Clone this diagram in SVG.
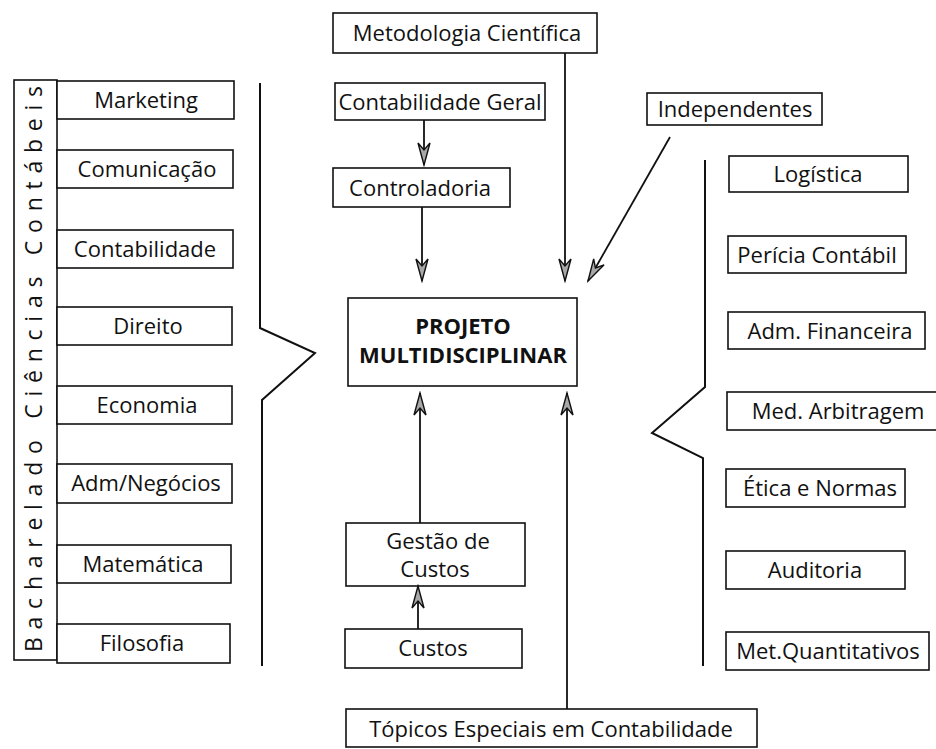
<svg xmlns="http://www.w3.org/2000/svg" width="936" height="749" viewBox="0 0 936 749">
<style>
.box{fill:#fff;stroke:#111;stroke-width:1.6}
.t{font-family:"Open Sans","Noto Sans","DejaVu Sans",sans-serif;font-size:22px;fill:#111;text-anchor:middle}
.b{font-weight:bold;font-size:22px}
.v{font-size:23px;text-anchor:start}
.ln{fill:none;stroke:#111;stroke-width:1.8}
.br{fill:none;stroke:#111;stroke-width:2}
</style>
<defs>
<marker id="ah" viewBox="-24 -8 26 16" markerWidth="26" markerHeight="16" refX="0" refY="0" orient="auto" markerUnits="userSpaceOnUse">
<path d="M0,0 L-22,-6 L-15,0 L-22,6 Z" fill="#a8a8a8" stroke="#111" stroke-width="1.4" stroke-linejoin="miter"/>
</marker>
</defs>
<rect width="936" height="749" fill="#fff"/>

<g id="label-bacharelado">
<rect class="box" x="14" y="80" width="43" height="580"/>
<text class="t v" transform="translate(42,652) rotate(-90)" textLength="566" lengthAdjust="spacing">Bacharelado Ciências Contábeis</text>
</g>

<g id="marketing"><rect class="box" x="57" y="81" width="177" height="38"/><text class="t" x="146" y="108">Marketing</text></g>
<g id="comunicacao"><rect class="box" x="57" y="150" width="176" height="38"/><text class="t" x="147" y="177">Comunicação</text></g>
<g id="contabilidade"><rect class="box" x="57" y="230" width="176" height="38"/><text class="t" x="145" y="257">Contabilidade</text></g>
<g id="direito"><rect class="box" x="57" y="307" width="175" height="38"/><text class="t" x="148" y="334">Direito</text></g>
<g id="economia"><rect class="box" x="57" y="386" width="175" height="38"/><text class="t" x="147" y="413">Economia</text></g>
<g id="adm-negocios"><rect class="box" x="57" y="464" width="175" height="39"/><text class="t" x="146" y="491">Adm/Negócios</text></g>
<g id="matematica"><rect class="box" x="57" y="545" width="174" height="38"/><text class="t" x="143" y="572">Matemática</text></g>
<g id="filosofia"><rect class="box" x="57" y="624" width="173" height="39"/><text class="t" x="142" y="651">Filosofia</text></g>

<g id="metodologia"><rect class="box" x="333" y="13" width="264" height="40"/><text class="t" x="467" y="41">Metodologia Científica</text></g>
<g id="contabilidade-geral"><rect class="box" x="335" y="83" width="210" height="37"/><text class="t" x="440" y="110">Contabilidade Geral</text></g>
<g id="controladoria"><rect class="box" x="333" y="168" width="177" height="39"/><text class="t" x="420" y="196">Controladoria</text></g>
<g id="independentes"><rect class="box" x="647" y="93" width="175" height="32"/><text class="t" x="735" y="117">Independentes</text></g>

<g id="projeto"><rect class="box" x="348" y="298" width="229" height="88"/>
<text class="t b" x="463" y="334">PROJETO</text>
<text class="t b" x="463" y="363">MULTIDISCIPLINAR</text></g>

<g id="gestao-custos"><rect class="box" x="346" y="523" width="179" height="63"/>
<text class="t" x="438" y="549">Gestão de</text>
<text class="t" x="435" y="577">Custos</text></g>
<g id="custos"><rect class="box" x="345" y="629" width="177" height="39"/><text class="t" x="433" y="656">Custos</text></g>
<g id="topicos"><rect class="box" x="346" y="709" width="411" height="38"/><text class="t" x="551" y="737">Tópicos Especiais em Contabilidade</text></g>

<g id="logistica"><rect class="box" x="729" y="156" width="179" height="36"/><text class="t" x="818" y="182">Logística</text></g>
<g id="pericia"><rect class="box" x="728" y="236" width="178" height="37"/><text class="t" x="817" y="263">Perícia Contábil</text></g>
<g id="adm-financeira"><rect class="box" x="728" y="312" width="197" height="37"/><text class="t" x="830" y="339">Adm. Financeira</text></g>
<g id="med-arbitragem"><rect class="box" x="727" y="392" width="220" height="38"/><text class="t" x="838" y="419">Med. Arbitragem</text></g>
<g id="etica"><rect class="box" x="726" y="469" width="179" height="38"/><text class="t" x="820" y="496">Ética e Normas</text></g>
<g id="auditoria"><rect class="box" x="726" y="551" width="179" height="38"/><text class="t" x="815" y="578">Auditoria</text></g>
<g id="met-quant"><rect class="box" x="726" y="632" width="203" height="38"/><text class="t" x="828" y="659">Met.Quantitativos</text></g>

<g id="connectors">
<path class="br" d="M260,83 V328 L315,353 L262,400 V666"/>
<path class="br" d="M705,160 V387 L652,433 L703,458 V666"/>
<line class="ln" x1="424" y1="120" x2="424" y2="165" marker-end="url(#ah)"/>
<line class="ln" x1="422" y1="207" x2="422" y2="281" marker-end="url(#ah)"/>
<line class="ln" x1="565" y1="53" x2="565" y2="281" marker-end="url(#ah)"/>
<line class="ln" x1="670" y1="137" x2="588" y2="281" marker-end="url(#ah)"/>
<line class="ln" x1="420" y1="523" x2="420" y2="393" marker-end="url(#ah)"/>
<line class="ln" x1="567" y1="709" x2="567" y2="393" marker-end="url(#ah)"/>
<line class="ln" x1="418" y1="629" x2="418" y2="586" marker-end="url(#ah)"/>
</g>
</svg>
